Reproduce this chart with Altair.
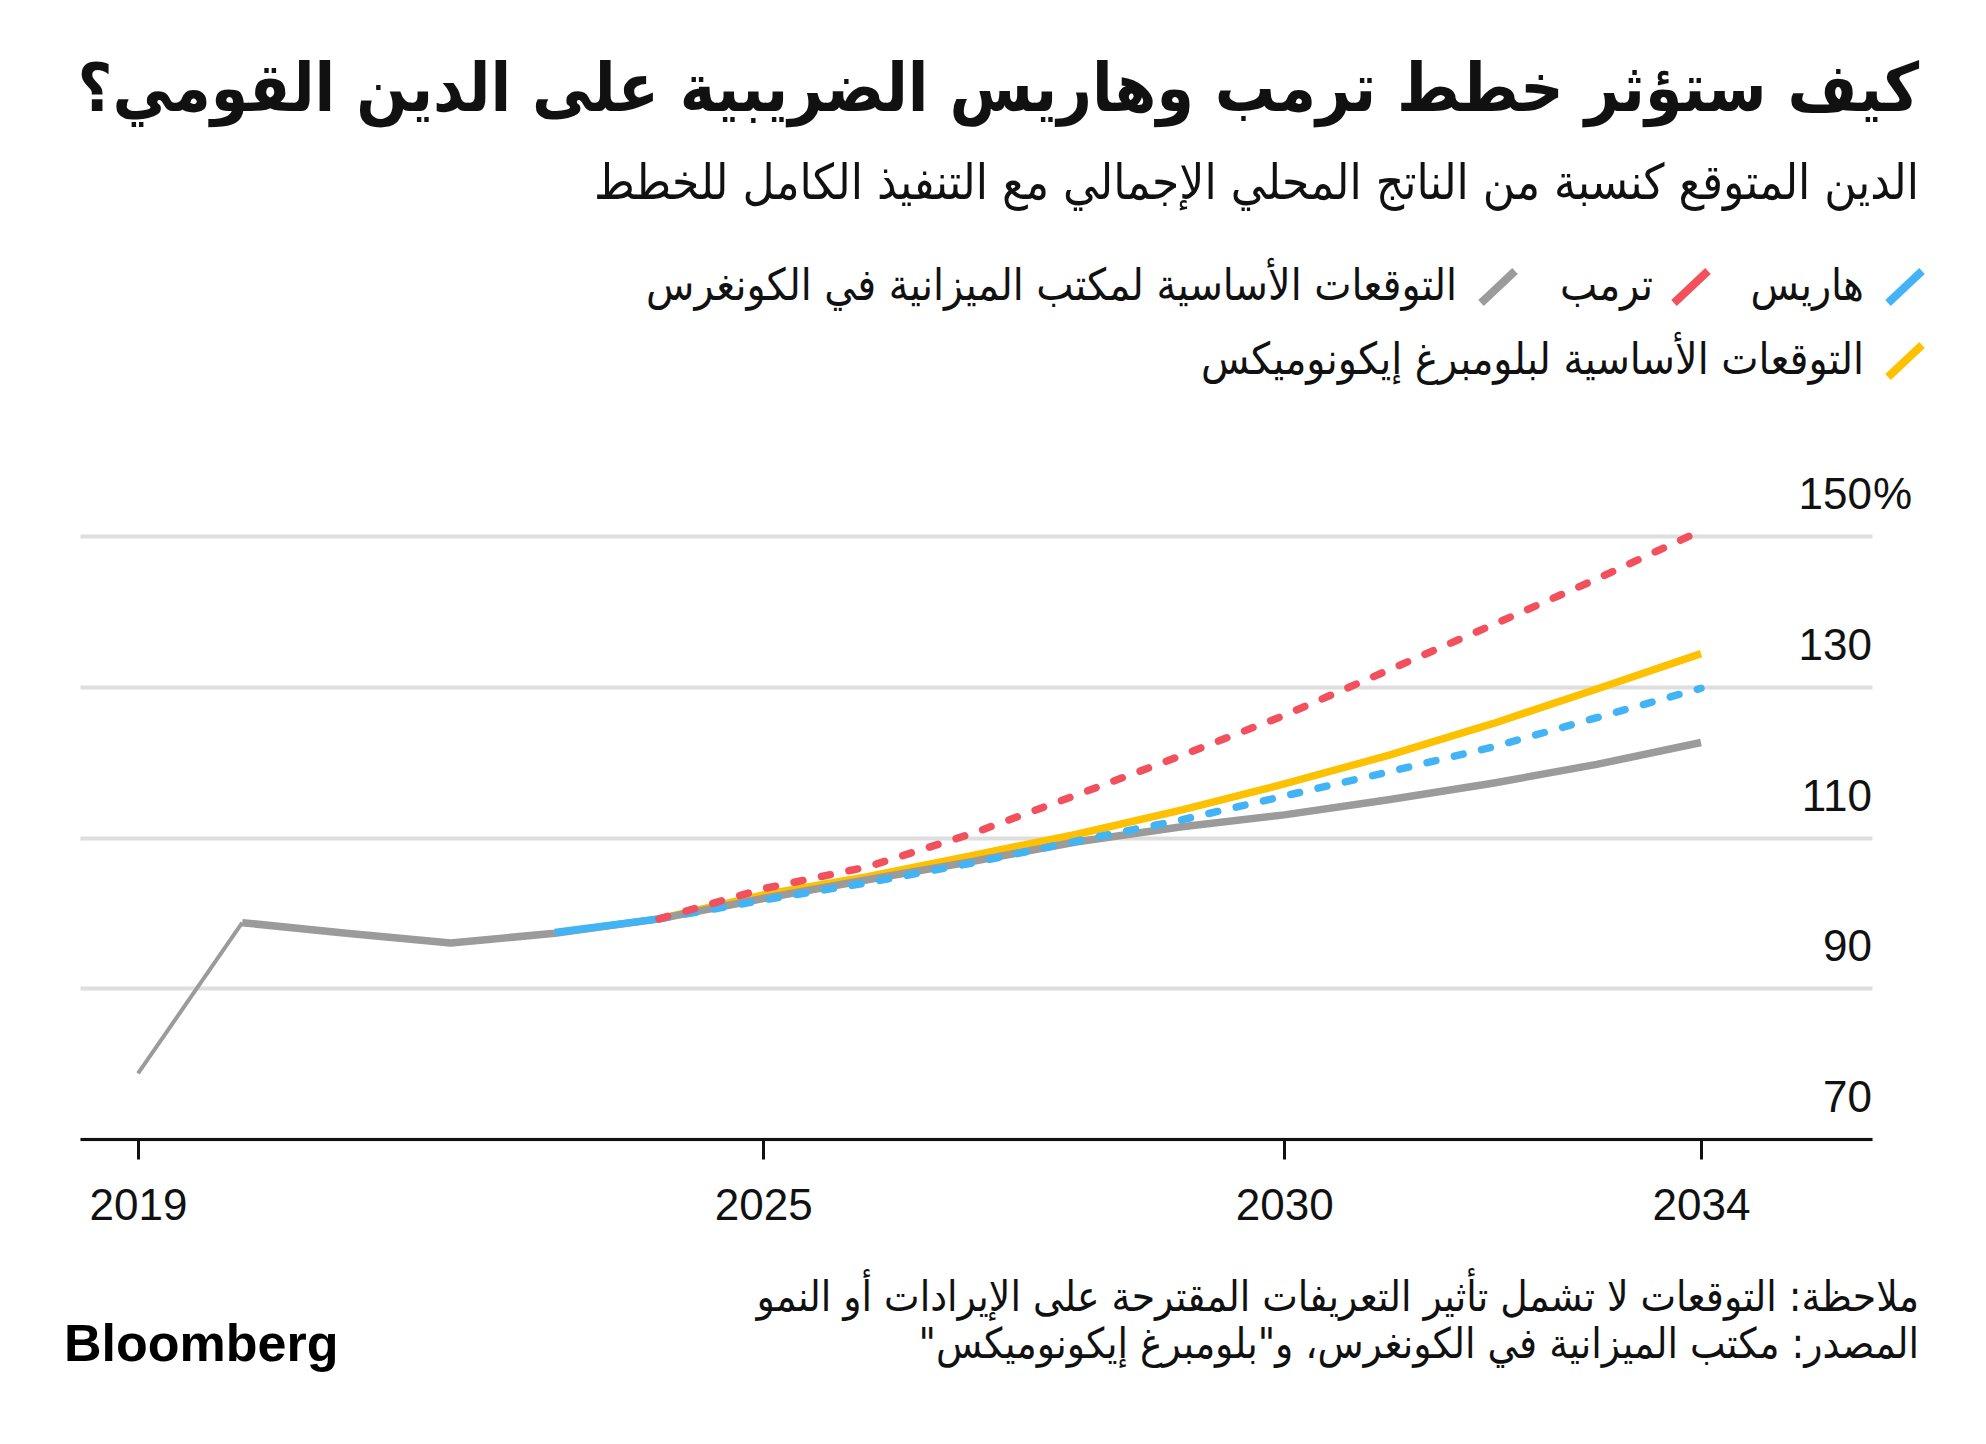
import altair as alt
import pandas as pd

# ---------------- data ----------------
years_hist = [2019, 2020]
cbo_hist = [78.7, 98.7]

years_cbo = [2020, 2021, 2022, 2023, 2024, 2025, 2026, 2027, 2028, 2029, 2030, 2031, 2032, 2033, 2034]
cbo_vals = [98.7, 97.3, 96.0, 97.3, 99.2, 101.9, 104.4, 106.8, 109.4, 111.4, 113.0, 115.0, 117.2, 119.7, 122.6]

years_bbg = [2024, 2025, 2026, 2027, 2028, 2029, 2030, 2031, 2032, 2033, 2034]
bbg_vals = [99.2, 102.4, 104.8, 107.6, 110.4, 113.6, 117.1, 120.9, 125.1, 129.7, 134.4]

years_harris_actual = [2023, 2024]
harris_actual = [97.4, 99.2]
years_harris = [2024, 2025, 2026, 2027, 2028, 2029, 2030, 2031, 2032, 2033, 2034]
harris_vals = [99.2, 101.7, 104.0, 106.6, 109.5, 112.3, 115.5, 118.7, 122.0, 125.9, 129.8]

years_trump = [2024, 2025, 2026, 2027, 2028, 2029, 2030, 2031, 2032, 2033, 2034]
trump_vals = [99.2, 103.2, 106.1, 110.5, 115.6, 120.8, 126.2, 132.2, 138.2, 144.3, 150.7]

x_ticks = [2019, 2025, 2030, 2034]
y_ticks = [70, 90, 110, 130, 150]
y_labels = ["70", "90", "110", "130", "150"]

RLM = "\u200f"
title_text = "كيف ستؤثر خطط ترمب وهاريس الضريبية على الدين القومي؟"
subtitle_text = "الدين المتوقع كنسبة من الناتج المحلي الإجمالي مع التنفيذ الكامل للخطط"
legend_harris = "هاريس"
legend_trump = "ترمب"
legend_cbo = "التوقعات الأساسية لمكتب الميزانية في الكونغرس"
legend_bbg = "التوقعات الأساسية لبلومبرغ إيكونوميكس"
note_text = "ملاحظة: التوقعات لا تشمل تأثير التعريفات المقترحة على الإيرادات أو النمو"
source_text = "المصدر:  مكتب الميزانية في الكونغرس، و\"بلومبرغ إيكونوميكس\""
brand_text = "Bloomberg"

# ---------------- styles ----------------
BLUE = "#42B4F6"
RED = "#F2505C"
YELLOW = "#FDC100"
GRAY = "#9B9B9B"
AR_FONT = "DejaVu Sans Condensed, DejaVu Sans"
NUM_FONT = "Liberation Sans"

W, H = 1792, 603
LW = 7.5

xscale = alt.Scale(domain=[2018.443, 2035.641], nice=False, zero=False)
yscale = alt.Scale(domain=[70, 150], nice=False, zero=False)
xaxis = alt.Axis(values=x_ticks, format="d", title=None, grid=False,
                 domainColor="#111111", domainWidth=3, tickColor="#111111",
                 tickWidth=3, tickSize=20, labelFontSize=44, labelFont=NUM_FONT,
                 labelColor="#111111", labelPadding=25, labelFlush=False,
                 labelOverlap=False, zindex=1)
yaxis = alt.Axis(values=y_ticks, title=None, grid=True, gridColor="#DEDEDE",
                 gridWidth=4, labels=False, ticks=False, domain=False)


def line_layer(years, vals, color, width, dash=None):
    df = pd.DataFrame({"year": years, "value": vals})
    kw = dict(color=color, strokeWidth=width, strokeJoin="round")
    if dash:
        kw.update(strokeDash=dash, strokeCap="round")
    else:
        kw.update(strokeCap="butt")
    return alt.Chart(df).mark_line(**kw).encode(
        x=alt.X("year:Q", scale=xscale, axis=xaxis),
        y=alt.Y("value:Q", scale=yscale, axis=yaxis),
    )


def text_layer(text, x, y, size, align="right", weight="normal", font=AR_FONT,
               baseline="middle", color="#111111"):
    df = pd.DataFrame({"t": [text]})
    return alt.Chart(df).mark_text(
        align=align, baseline=baseline, fontSize=size, fontWeight=weight,
        font=font, color=color,
    ).encode(x=alt.value(x), y=alt.value(y), text="t:N")


def legend_symbol(cx, cy, color):
    df = pd.DataFrame({"k": [0]})
    return alt.Chart(df).mark_rule(color=color, strokeWidth=8, strokeCap="butt").encode(
        x=alt.value(cx - 17), x2=alt.value(cx + 17),
        y=alt.value(cy + 16), y2=alt.value(cy - 16),
    )


# lines, bottom to top
lines = [
    line_layer(years_bbg, bbg_vals, YELLOW, LW),
    line_layer(years_hist, cbo_hist, GRAY, 4),
    line_layer(years_cbo, cbo_vals, GRAY, LW),
    line_layer(years_harris_actual, harris_actual, BLUE, LW),
    line_layer(years_harris, harris_vals, BLUE, LW, dash=[9, 19]),
    line_layer(years_trump, trump_vals, RED, LW, dash=[9, 19]),
]

# y labels above the gridlines, inside the plot's right end
ydf = pd.DataFrame({"v": y_ticks, "lab": y_labels})
ylabels = alt.Chart(ydf).mark_text(
    align="right", baseline="alphabetic", dy=-27, fontSize=44, font=NUM_FONT, color="#111111"
).encode(x=alt.value(W), y=alt.Y("v:Q", scale=yscale, axis=yaxis), text="lab:N")
pct = alt.Chart(pd.DataFrame({"v": [y_ticks[-1]], "lab": ["%"]})).mark_text(
    align="left", baseline="alphabetic", dy=-27, dx=1, fontSize=44, font=NUM_FONT, color="#111111"
).encode(x=alt.value(W), y=alt.Y("v:Q", scale=yscale, axis=yaxis), text="lab:N")

texts = [
    text_layer(RLM + title_text + RLM, 1839, -445, 67, weight="bold"),
    text_layer(RLM + subtitle_text + RLM, 1839, -352, 49),
    legend_symbol(1825, -249, BLUE),
    text_layer(RLM + legend_harris + RLM, 1784, -249, 44),
    legend_symbol(1611, -249, RED),
    text_layer(RLM + legend_trump + RLM, 1573, -249, 44),
    legend_symbol(1418, -249, GRAY),
    text_layer(RLM + legend_cbo + RLM, 1377, -249, 44),
    legend_symbol(1825, -175, YELLOW),
    text_layer(RLM + legend_bbg + RLM, 1784, -175, 44),
    text_layer(RLM + note_text + RLM, 1839, 762, 42),
    text_layer(RLM + source_text + RLM, 1839, 809, 42),
    text_layer(brand_text, -16, 809, 52, align="left", weight="bold", font=NUM_FONT,
               color="#000000"),
]

chart = alt.layer(*lines, ylabels, pct, *texts).properties(
    width=W, height=H,
    autosize=alt.AutoSizeParams(type="none"),
    padding={"left": 72, "top": 528, "right": 106, "bottom": 297},
    background="white",
).configure_view(strokeWidth=0)

chart.save("out.html", embed_options={"renderer": "svg", "actions": False})
